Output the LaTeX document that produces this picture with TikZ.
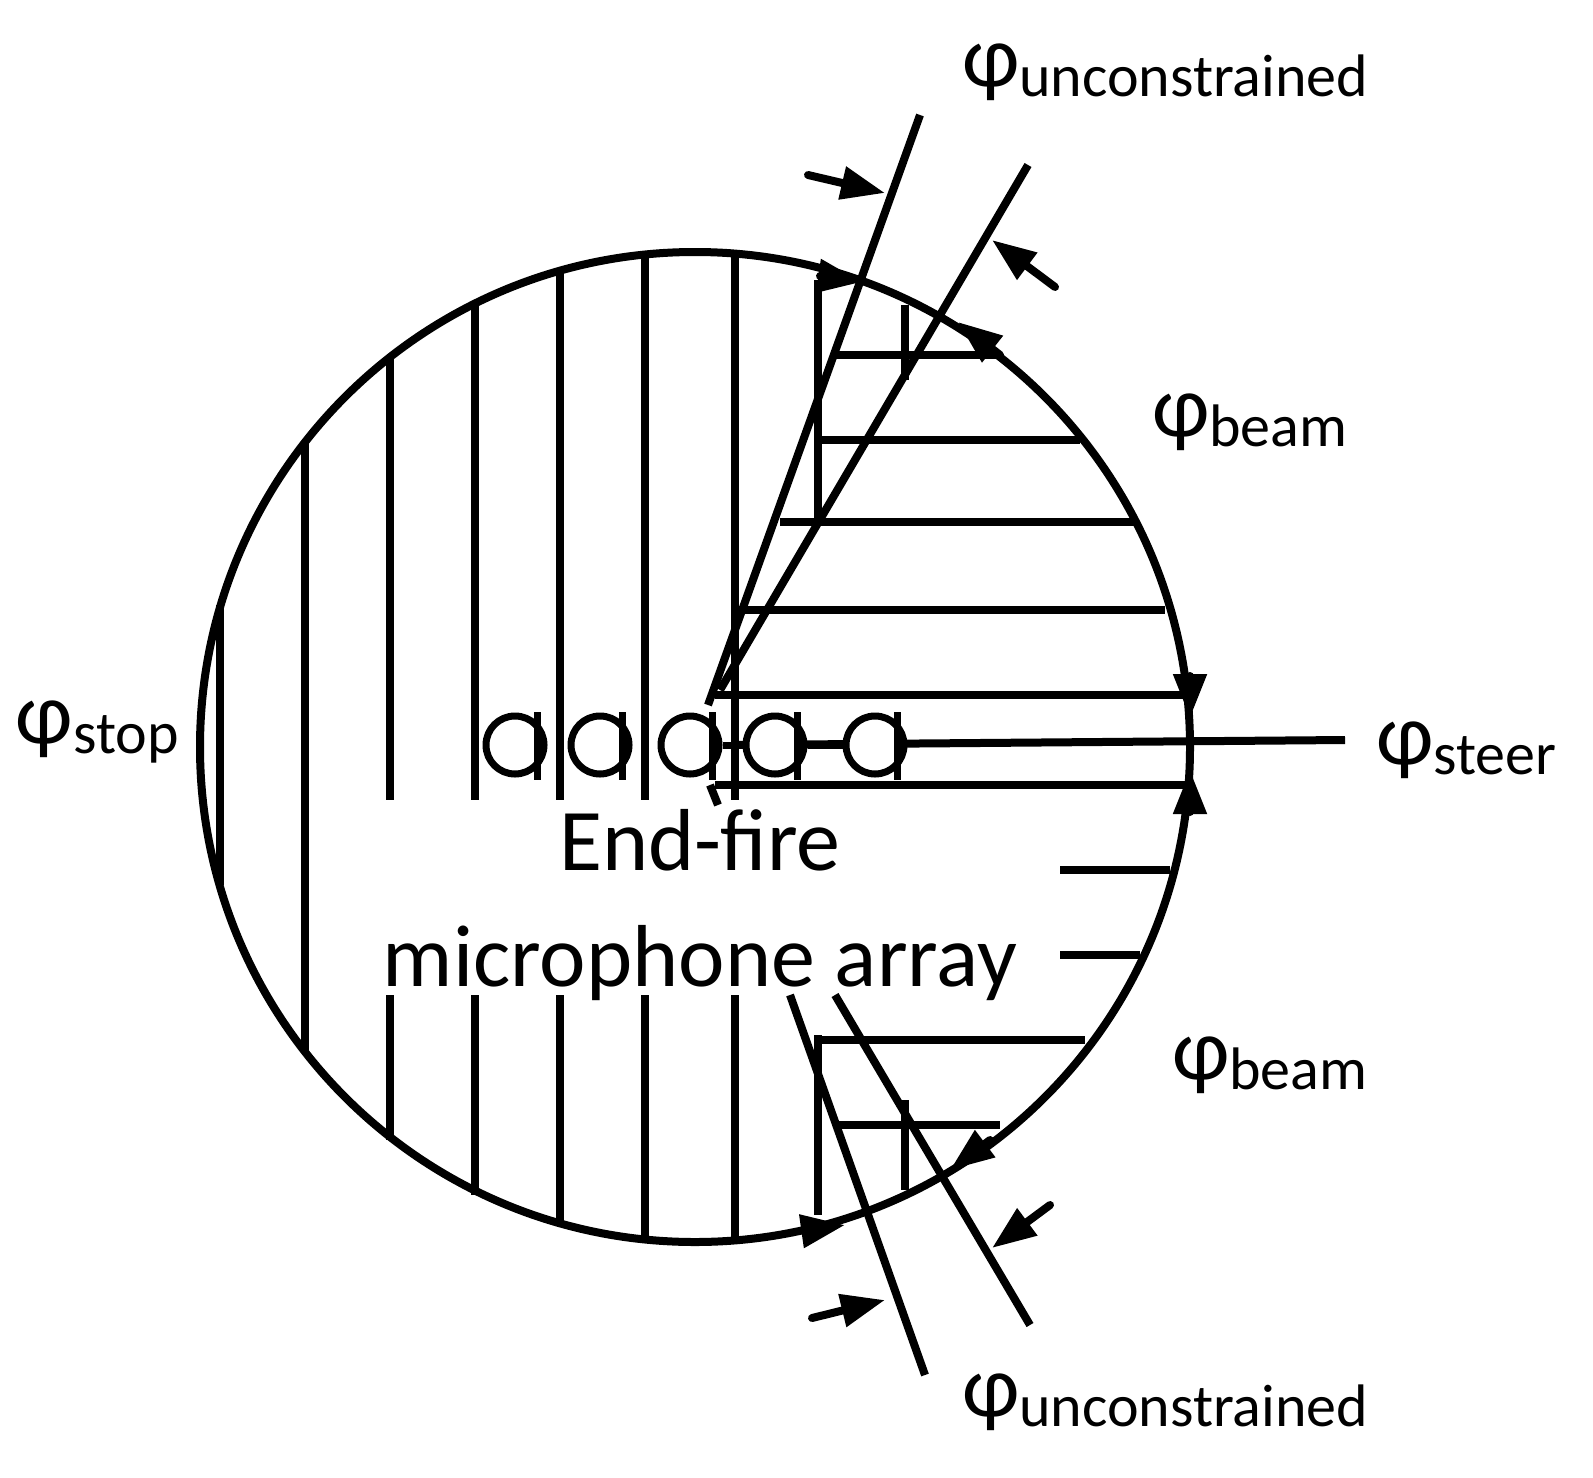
\documentclass[tikz,border=0pt]{standalone}
\usepackage{fontspec}
\setmainfont{Carlito}
\usetikzlibrary{arrows.meta}
\newcommand{\lsub}[1]{\raisebox{-5pt}{\fontsize{30}{32}\selectfont #1}}
\begin{document}
\begin{tikzpicture}[x=0.5pt,y=-0.5pt,line width=4pt,
  arr/.style={-{Triangle[length=22pt,width=16pt]},line width=4pt,line cap=round},
  lab/.style={font=\fontsize{44}{48}\selectfont,inner sep=0pt,anchor=west},
  mic/.style={circle,draw,fill=white,minimum size=29pt,line width=3.5pt,inner sep=0pt}]
\useasboundingbox (0,0) rectangle (1593,1477);
\coordinate (c) at (695,747);
\draw (c) circle[radius=495];
% vertical hatching
\foreach \x/\a/\b in {220/605/885,305/442/1052}{\draw (\x,\a)--(\x,\b);}
\foreach \x/\a in {390/355,475/305,560/270,645/257,735/257}{\draw (\x,\a)--(\x,800);}
\foreach \x/\b in {390/1140,475/1195,560/1225,645/1240,735/1242}{\draw (\x,995)--(\x,\b);}
\draw (818,280)--(818,520); \draw (818,1035)--(818,1215);
\draw (905,305)--(905,380); \draw (905,1100)--(905,1190);
% horizontal hatching
\foreach \y/\a/\b in {355/835/1000,440/820/1080,522/780/1135,610/745/1165,695/715/1190,785/715/1190,870/1060/1170,955/1060/1140,1040/820/1085,1125/835/1000}{\draw (\a,\y)--(\b,\y);}
% slanted
\draw (708,705)--(920,115);
\draw (720,690)--(1028,165);
\draw (710,785)--(718,805);
\draw (790,995)--(925,1375);
\draw (835,995)--(1030,1325);
% steer
\draw (735,745)--(1345,740);
\draw[arr] (1190,690)--(1190,718);
\draw[arr] (1190,795)--(1190,770);
% dimension arrows
\draw[arr] (808,175)--(885,193);
\draw[arr] (1055,287)--(992,240);
\draw[arr] (1050,1205)--(992,1248);
\draw[arr] (812,1318)--(885,1300);
\draw[arr] (820,276)--(862,282);
\draw[arr] (1000,355)--(958,322);
\draw[arr] (990,1140)--(950,1170);
\draw[arr] (810,1230)--(845,1225);
% microphones
\foreach \x [count=\i] in {515,600,690,775,875}{
  \node[mic] (m\i) at (\x,745) {};
  \draw[line width=3.5pt] (m\i.north east)++(0,-10)--++(0,68);}
\draw[line width=3.5pt] (m3)--(m4) (m4)--(m5);
% labels
\node[lab] at (958,72) {φ\lsub{unconstrained}};
\node[lab] at (958,1402) {φ\lsub{unconstrained}};
\node[lab] at (1148,422) {φ\lsub{beam}};
\node[lab] at (1168,1065) {φ\lsub{beam}};
\node[lab] at (12,732) {φ\lsub{stop}};
\node[lab] at (1372,750) {φ\lsub{steer}};
\node[font=\fontsize{44}{58}\selectfont,align=center] at (700,905) {End-fire\\microphone array};
\end{tikzpicture}
\end{document}
